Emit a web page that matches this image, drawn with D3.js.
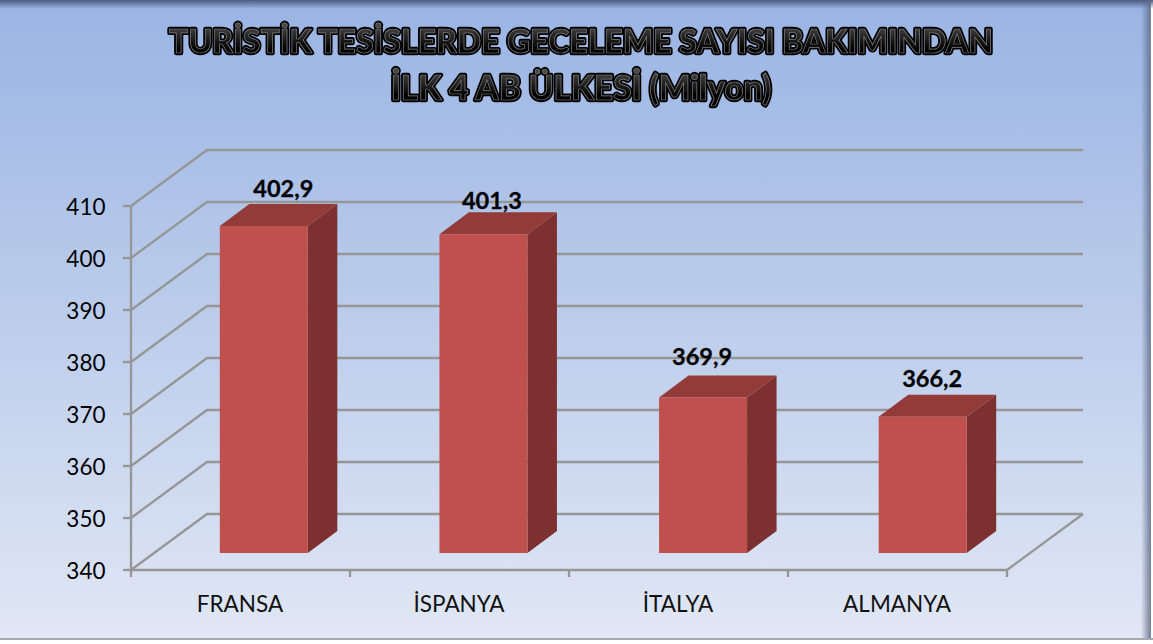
<!DOCTYPE html>
<html><head><meta charset="utf-8">
<script src="https://cdn.jsdelivr.net/npm/d3@7/dist/d3.min.js"></script>
<style>html,body{margin:0;padding:0;background:#fff;overflow:hidden}svg{display:block}text{font-family:Lato,"Open Sans",sans-serif}</style>
</head><body><svg id="c" width="1153" height="644"></svg>
<script>
const categories = ["FRANSA","İSPANYA","İTALYA","ALMANYA"];
const values = [402.9,401.3,369.9,366.2];
const valueLabels = ["402,9","401,3","369,9","366,2"];
const yTicks = [340,350,360,370,380,390,400,410];
const titleLines = ["TURİSTİK TESİSLERDE GECELEME SAYISI BAKIMINDAN","İLK 4 AB ÜLKESİ (Milyon)"];

const svg = d3.select("#c");
const W = 1153, H = 644;
const defs = svg.append("defs");
const bg = defs.append("linearGradient").attr("id","bg").attr("x1",0).attr("y1",0).attr("x2",0).attr("y2",1);
[[0,"#9ab4e4"],[0.5,"#bccdeb"],[1,"#e1e7f5"]].forEach(s=>bg.append("stop").attr("offset",s[0]).attr("stop-color",s[1]));
const edgeTop = defs.append("linearGradient").attr("id","edgeT").attr("x1",0).attr("y1",0).attr("x2",0).attr("y2",1);
edgeTop.append("stop").attr("offset",0).attr("stop-color","#4d5c80");
edgeTop.append("stop").attr("offset",1).attr("stop-color","#4d5c80").attr("stop-opacity",0);
const edgeRight = defs.append("linearGradient").attr("id","edgeR").attr("x1",0).attr("y1",0).attr("x2",1).attr("y2",0);
edgeRight.append("stop").attr("offset",0).attr("stop-color","#5d6a88").attr("stop-opacity",0);
edgeRight.append("stop").attr("offset",1).attr("stop-color","#5d6a88").attr("stop-opacity",.85);
const blur = defs.append("filter").attr("id","soft").attr("x","-5%").attr("y","-20%").attr("width","110%").attr("height","140%");
blur.append("feGaussianBlur").attr("stdDeviation",0.7);
const blur2 = defs.append("filter").attr("id","soft2").attr("x","-5%").attr("y","-20%").attr("width","110%").attr("height","140%");
blur2.append("feGaussianBlur").attr("stdDeviation",0.35);
const titleFill = defs.append("linearGradient").attr("id","tf").attr("x1",0).attr("y1",0).attr("x2",0).attr("y2",1);
titleFill.append("stop").attr("offset",0.1).attr("stop-color","#4a4a4a");
titleFill.append("stop").attr("offset",0.7).attr("stop-color","#030303");

svg.append("rect").attr("width",W).attr("height",H).attr("fill","#fff");
svg.append("rect").attr("width",W-3).attr("height",639).attr("fill","url(#bg)");
svg.append("rect").attr("width",W).attr("height",9).attr("fill","url(#edgeT)");
svg.append("rect").attr("x",W-12).attr("width",10).attr("height",639).attr("fill","url(#edgeR)");
svg.append("rect").attr("y",638).attr("width",W).attr("height",2).attr("fill","#a6a9b0");

const y = d3.scaleLinear().domain([340,410]).range([570,206]);
const x = d3.scaleBand().domain(categories).range([131,1007]);
const xBar = d3.scaleBand().domain(categories).range([131,1009.5]);
const wallDX = 76, wallDY = -56;      // depth of the 3D box
const barDX = 29.5, barDY = -22;      // depth of each bar
const barInX = 23, barInY = -17;      // bar's front-face inset from the floor front edge
const barW = 88;
const grid = "#969696";
const gridW = 2.3;
const labelDX = [19.5,8.5,-1,9.5];    // label offset from the bar's centre
const labelDY = [-29,-25,-33,-30];    // label baseline offset from the bar's top

const g = svg.append("g");
yTicks.forEach(t=>{
  const py = y(t);
  g.append("path").attr("fill","none").attr("stroke",grid).attr("stroke-width",gridW)
   .attr("d",`M${x.range()[0]},${py}L${x.range()[0]+wallDX},${py+wallDY}L${x.range()[1]+wallDX},${py+wallDY}`);
});
g.append("line").attr("x1",x.range()[1]).attr("y1",y(340)).attr("x2",x.range()[1]+wallDX).attr("y2",y(340)+wallDY).attr("stroke",grid).attr("stroke-width",gridW);
g.append("line").attr("x1",x.range()[0]).attr("x2",x.range()[0]).attr("y1",y(410)).attr("y2",y(340)).attr("stroke",grid).attr("stroke-width",gridW);
g.append("line").attr("x1",x.range()[0]).attr("x2",x.range()[1]).attr("y1",y(340)).attr("y2",y(340)).attr("stroke",grid).attr("stroke-width",gridW);
yTicks.forEach(t=>{
  g.append("line").attr("x1",123).attr("x2",131).attr("y1",y(t)).attr("y2",y(t)).attr("stroke",grid).attr("stroke-width",gridW);
  g.append("text").attr("x",105.5).attr("y",y(t)+8.5).attr("text-anchor","end").attr("font-size",22.5).attr("fill","#000").text(t);
});
[...categories.map(c=>x(c)),x.range()[1]].forEach(px=>{
  g.append("line").attr("x1",px).attr("x2",px).attr("y1",570).attr("y2",577).attr("stroke",grid).attr("stroke-width",gridW);
});
categories.forEach(c=>{
  g.append("text").attr("x",x(c)+x.bandwidth()/2-0.5).attr("y",612).attr("text-anchor","middle").attr("font-size",22.5).attr("fill","#111").text(c);
});
categories.forEach((c,i)=>{
  const x0 = xBar(c)+xBar.bandwidth()/2-barW/2+barInX, x1 = x0+barW;
  const yb = y(340)+barInY, yt = y(values[i])+barInY;
  g.append("path").attr("fill","#7c3130").attr("d",`M${x1},${yt}L${x1+barDX},${yt+barDY}L${x1+barDX},${yb+barDY}L${x1},${yb}Z`);
  g.append("path").attr("fill","#923b39").attr("d",`M${x0},${yt}L${x0+barDX},${yt+barDY}L${x1+barDX},${yt+barDY}L${x1},${yt}Z`);
  g.append("rect").attr("x",x0).attr("y",yt).attr("width",barW).attr("height",yb-yt).attr("fill","#c0504d");
  g.append("text").attr("x",x0+barW/2+labelDX[i]).attr("y",yt+labelDY[i]).attr("text-anchor","middle").attr("font-size",23.5).attr("font-weight",700).attr("stroke","#000").attr("stroke-width",0.3).attr("fill","#000").text(valueLabels[i]);
});
const titleBase = [52.5,99.5];
const titleSize = [32,33.3];
titleLines.forEach((t,i)=>{
  const put = (sel)=>sel.append("text").attr("x",581).attr("y",titleBase[i]).attr("text-anchor","middle").attr("font-size",titleSize[i]).attr("font-weight",900).attr("stroke-linejoin","round").text(t);
  put(svg.append("g").attr("filter","url(#soft)")).attr("fill","#000").attr("stroke","#000").attr("stroke-width",4.4);
  put(svg.append("g").attr("filter","url(#soft2)")).attr("fill","url(#tf)").attr("stroke","#808080").attr("stroke-width",0.7);
});
</script></body></html>
